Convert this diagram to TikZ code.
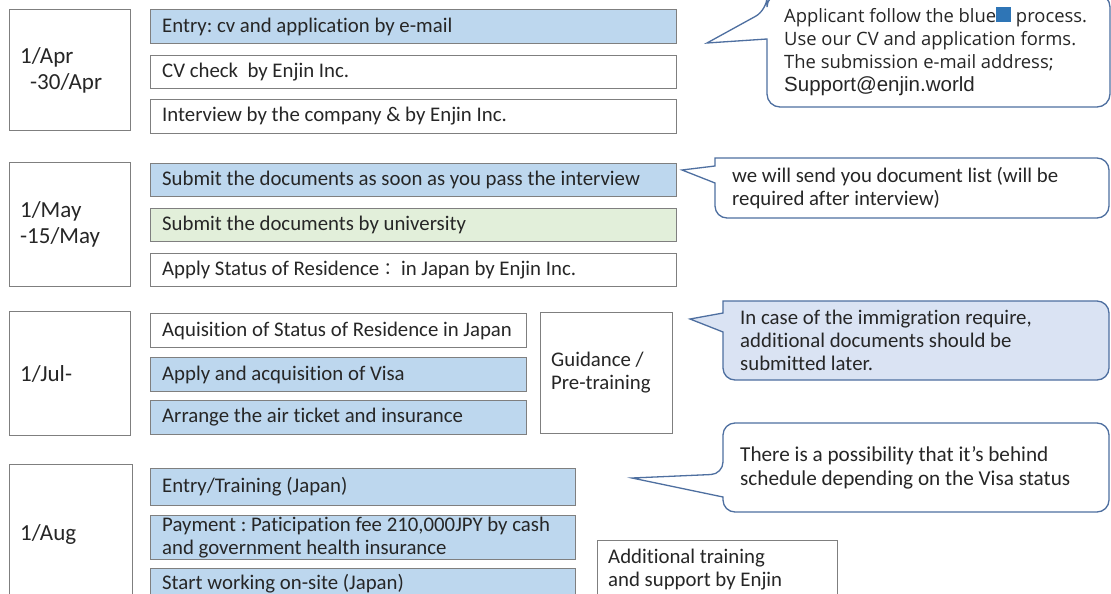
\documentclass[tikz,border=0pt]{standalone}
\usepackage{fontspec}
\setmainfont{Carlito}[Ligatures={NoCommon}]
\newfontfamily\osans{Open Sans}
\newfontfamily\lsans{Liberation Sans}
\newfontfamily\cjk{Noto Sans CJK JP}
\definecolor{bluefill}{HTML}{BDD7EE}
\definecolor{greenfill}{HTML}{E2EFDA}
\definecolor{callfill}{HTML}{DAE3F3}
\definecolor{boxgray}{HTML}{7F7F7F}
\definecolor{callline}{HTML}{4E6FA0}
\definecolor{txt}{HTML}{262626}
\definecolor{sqblue}{HTML}{2E75B6}
\tikzset{
  frame/.style 2 args={draw=boxgray, line width=1.1pt, anchor=north west, inner sep=0pt,
    minimum width=#1pt, minimum height=#2pt},
  basetext/.style={anchor=west, inner sep=0pt, align=left, text=txt,
    font=\fontsize{20.8}{23}\selectfont},
  steptext/.style={basetext, xshift=12pt},
  datetext/.style={basetext, xshift=11pt, font=\fontsize{23}{26}\selectfont},
  sidetext/.style={basetext, xshift=11pt},
  stepbox/.style n args={3}{frame={#1}{#2}, label={[steptext]west:{#3}}},
  datebox/.style n args={3}{frame={#1}{#2}, label={[datetext]west:{#3}}},
  sidebox/.style n args={3}{frame={#1}{#2}, label={[sidetext]west:{#3}}},
  callout/.style={draw=callline, line width=1.3pt, fill=white, line join=miter},
  calltext/.style={anchor=west, inner sep=0pt, align=left, text=txt, font=\fontsize{20.8}{23}\selectfont}
}
\begin{document}
\frenchspacing
\begin{tikzpicture}[x=1pt,y=-1pt]
\clip (0,0) rectangle (1111,594);
\fill[white] (0,0) rectangle (1111,594);

% ---- group 1
\node[datebox={121}{121}{1/Apr\\\hspace*{10pt}-30/Apr}] (d1) at (9,9) {};
\node[stepbox={526}{34}{Entry: cv and application by e-mail}, fill=bluefill] (s1) at (150,9) {};
\node[stepbox={526}{33}{CV check\ \ by Enjin Inc.}] (s2) at (150,55) {};
\node[stepbox={526}{34}{Interview by the company \& by Enjin Inc.}] (s3) at (150,99) {};

% ---- group 2
\node[datebox={121}{124}{1/May\\-15/May}] (d2) at (9,162) {};
\node[stepbox={526}{33}{Submit the documents as soon as you pass the interview}, fill=bluefill] (s4) at (150,163) {};
\node[stepbox={526}{33}{Submit the documents by university}, fill=greenfill] (s5) at (150,208) {};
\node[stepbox={526}{33}{Apply Status of Residence{\cjk\fontsize{17}{20}\selectfont ：}\ in Japan by Enjin Inc.}] (s6) at (150,253) {};

% ---- group 3
\node[datebox={121}{124}{1/Jul-}] (d3) at (9,311) {};
\node[stepbox={376}{34}{Aquisition of Status of Residence in Japan}] (s7) at (150,313) {};
\node[stepbox={376}{34}{Apply and acquisition of Visa}, fill=bluefill] (s8) at (150,357) {};
\node[stepbox={376}{34}{Arrange the air ticket and insurance}, fill=bluefill] (s9) at (150,400) {};
\node[sidebox={132}{121}{Guidance /\\Pre-training}] (g) at (540,312) {};

% ---- group 4
\node[datebox={123}{140}{1/Aug}] (d4) at (9,464) {};
\node[stepbox={425}{37}{Entry/Training (Japan)}, fill=bluefill] (s10) at (150,468) {};
\node[stepbox={425}{44}{Payment : Paticipation fee 210,000JPY by cash\\and government health insurance}, fill=bluefill] (s11) at (150,515) {};
\node[stepbox={425}{30}{Start working on-site (Japan)}, fill=bluefill] (s12) at (150,568) {};
\node[frame={240}{70}, label={[sidetext, anchor=north west, yshift=-9pt]north west:{Additional training\\and support by Enjin}}] (add) at (597,540) {};

% ---- callouts
\draw[callout, rounded corners=13pt] (767,70) -- (767,107) -- (1110,107) -- (1110,-6) -- (767,-6) -- (767,10) [sharp corners] -- (707,43) -- (767,39) -- cycle;
\node[calltext] (c1) at (784,51.5) {{\osans\fontsize{18.4}{23}\selectfont Applicant follow the blue\textcolor{sqblue}{\rule[0pt]{15pt}{15pt}} process.}\\
{\osans\fontsize{18.4}{23}\selectfont Use our CV and application forms.}\\
{\osans\fontsize{18.4}{23}\selectfont The submission e-mail address;}\\
{\lsans\fontsize{20.5}{23}\selectfont Support@enjin.world}};

\draw[callout] (715,183) [rounded corners=12pt] -- (715,218) -- (1109,218) -- (1109,158) -- (727,158) [sharp corners] .. controls (715,158) .. (715,166) -- (682,170) -- cycle;
\node[calltext] (c2) at (732,188.5) {we will send you document list (will be\\required after interview)};

\draw[callout, fill=callfill] (723,332) [rounded corners=12pt] -- (723,380) -- (1109,380) -- (1109,301) -- (735,301) [sharp corners] .. controls (723,301) .. (723,313) -- (690,319) -- cycle;
\node[calltext] (c3) at (740,340.5) {In case of the immigration require,\\additional documents should be\\submitted later.};

\draw[callout] (723,497) [rounded corners=12pt] -- (723,512) -- (1109,512) -- (1109,423) -- (723,423) -- (723,474) [sharp corners] -- (632,478) -- cycle;
\node[calltext, font=\fontsize{21.2}{24}\selectfont] (c4) at (740,468) {There is a possibility that it{\char39}s behind\\schedule depending on the Visa status};
\end{tikzpicture}
\end{document}
